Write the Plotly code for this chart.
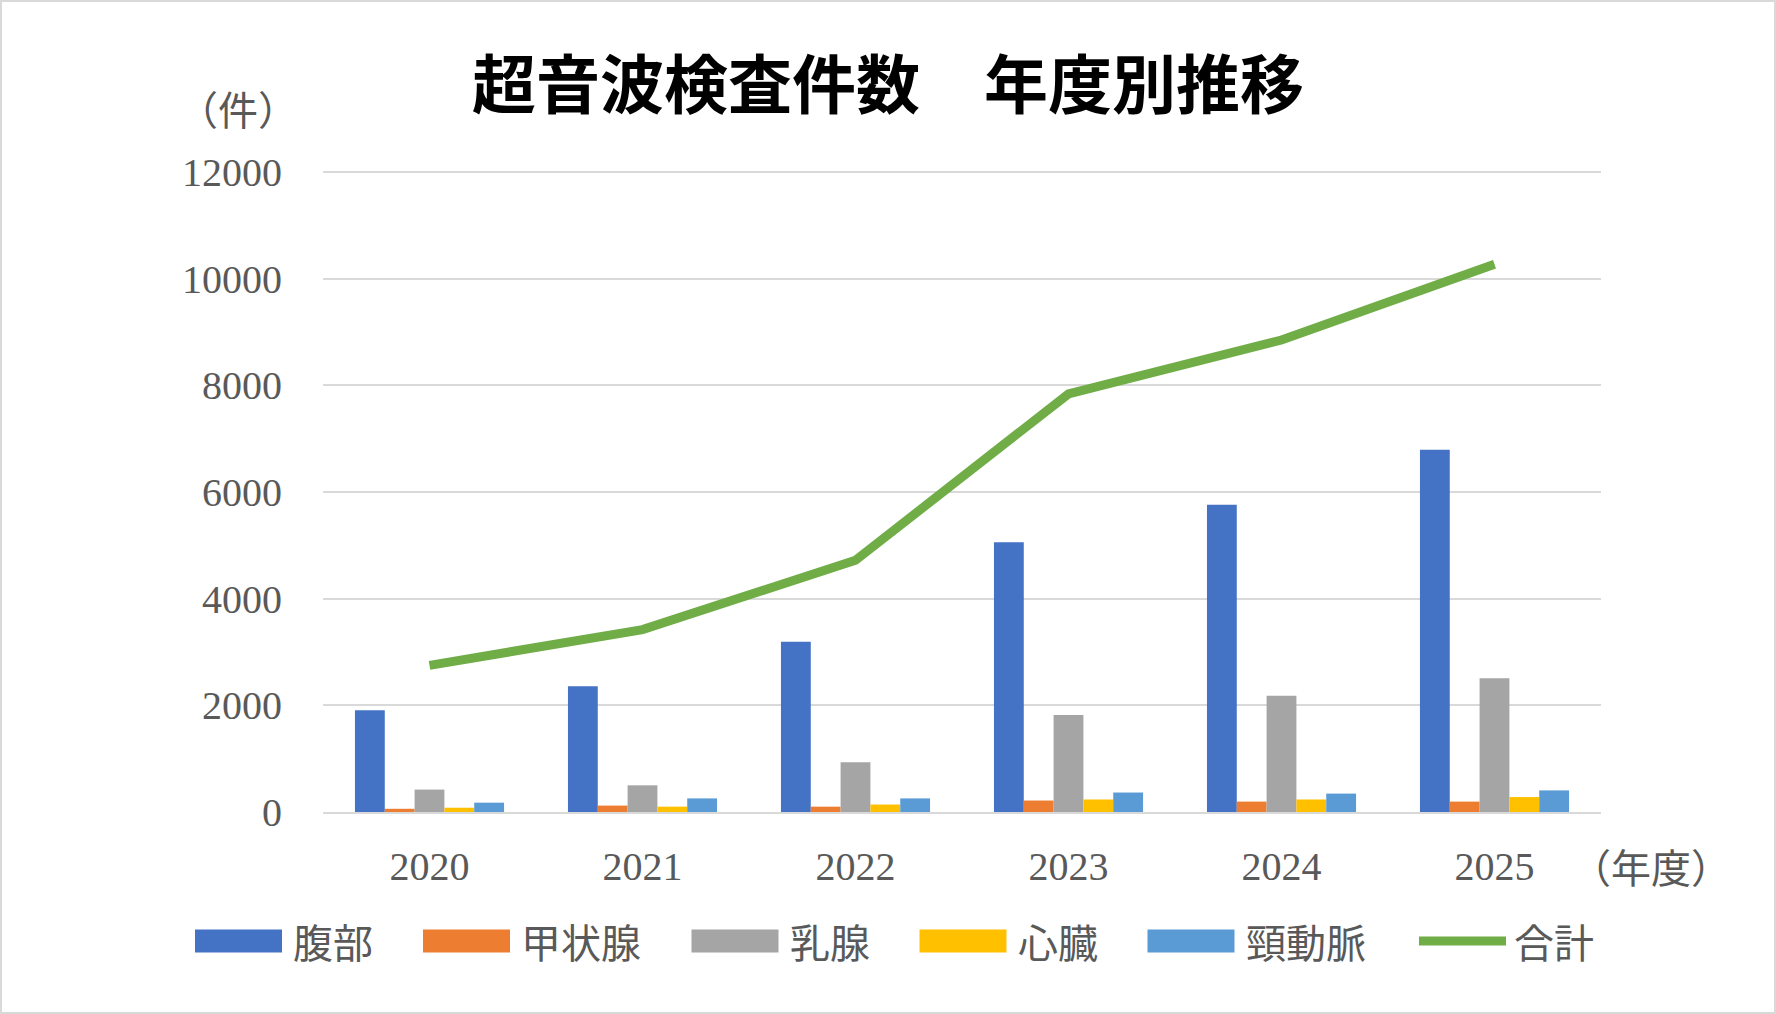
import plotly.graph_objects as go

# data
YEARS = ["2020", "2021", "2022", "2023", "2024", "2025"]
SERIES_NAMES = ["腹部", "甲状腺", "乳腺", "心臓", "頸動脈"]
ABDOMEN = [1910, 2360, 3190, 5060, 5760, 6790]
THYROID = [60, 120, 100, 215, 195, 195]
BREAST = [420, 500, 935, 1820, 2180, 2510]
HEART = [80, 100, 140, 235, 235, 280]
CAROTID = [175, 255, 255, 365, 345, 405]
TOTAL_NAME = "合計"
TOTAL = [2750, 3420, 4720, 7840, 8850, 10270]
Y_TICKS = [0, 2000, 4000, 6000, 8000, 10000, 12000]

BAR_COLORS = ["#4472C4", "#ED7D31", "#A5A5A5", "#FFC000", "#5B9BD5"]
LINE_COLOR = "#70AD47"
GRID_COLOR = "#D9D9D9"
TEXT_COLOR = "#595959"
SERIF = "Liberation Serif, Noto Sans CJK JP, serif"
CJK = "Noto Sans CJK JP, sans-serif"

W, H = 1776, 1014
ML, MR, MT, MB = 323, 175, 170, 202
PW = W - ML - MR
PH = H - MT - MB
# a little headroom above 12000 so plotly keeps the top gridline
Y_MAX = 12000 * PH / 640


def px_x(px):
    return (px - ML) / PW


def px_y(py):
    return (H - MB - py) / PH


fig = go.Figure()
for name, vals, color in zip(SERIES_NAMES, [ABDOMEN, THYROID, BREAST, HEART, CAROTID], BAR_COLORS):
    fig.add_trace(go.Bar(
        name=name,
        x=YEARS,
        y=vals,
        marker=dict(color=color, line_width=0),
        hovertemplate=f"{name}<br>%{{x}}: %{{y:d}}件<extra></extra>",
    ))

fig.add_trace(go.Scatter(
    name=TOTAL_NAME,
    x=YEARS,
    y=TOTAL,
    mode="lines",
    line=dict(color=LINE_COLOR, width=9),
    hovertemplate=f"{TOTAL_NAME}<br>%{{x}}: %{{y:d}}件<extra></extra>",
))

fig.update_layout(
    width=W,
    height=H,
    margin=dict(l=ML, r=MR, t=MT, b=MB),
    paper_bgcolor="white",
    plot_bgcolor="white",
    barmode="group",
    bargap=0.3,
    bargroupgap=0,
    showlegend=False,
    title=dict(
        text="<b>超音波検査件数　年度別推移</b>",
        font=dict(family=CJK, size=64, color="black"),
        x=888 / W, xref="container", xanchor="center",
        y=1 - 86 / H, yref="container", yanchor="middle",
    ),
    xaxis=dict(
        type="category",
        showgrid=False,
        showline=True,
        linecolor=GRID_COLOR,
        linewidth=2,
        ticks="",
        tickfont=dict(family=SERIF, size=40, color=TEXT_COLOR),
        ticklabelstandoff=18,
    ),
    yaxis=dict(
        range=[0, Y_MAX],
        tickvals=Y_TICKS,
        tickformat="d",
        showgrid=True,
        gridcolor=GRID_COLOR,
        gridwidth=2,
        zeroline=False,
        showline=False,
        ticks="",
        tickfont=dict(family=SERIF, size=40, color=TEXT_COLOR),
        ticklabelstandoff=40,
    ),
)

# axis unit labels
fig.add_annotation(text="（件）", x=px_x(238), y=px_y(108), xref="paper", yref="paper",
                   xanchor="center", yanchor="middle", showarrow=False,
                   font=dict(family=CJK, size=40, color=TEXT_COLOR))
fig.add_annotation(text="（年度）", x=px_x(1651), y=px_y(866), xref="paper", yref="paper",
                   xanchor="center", yanchor="middle", showarrow=False,
                   font=dict(family=CJK, size=40, color=TEXT_COLOR))

# legend drawn by hand so the swatches can be as wide as in the original
legend_y = 941
sw_w, sw_h = 87, 23
x = 195
for name, color in zip(SERIES_NAMES + [TOTAL_NAME], BAR_COLORS + [LINE_COLOR]):
    if name == TOTAL_NAME:
        fig.add_shape(type="line", xref="paper", yref="paper",
                      x0=px_x(x + 3), x1=px_x(x + sw_w + 3), y0=px_y(legend_y), y1=px_y(legend_y),
                      line=dict(color=color, width=9))
    else:
        fig.add_shape(type="rect", xref="paper", yref="paper",
                      x0=px_x(x), x1=px_x(x + sw_w),
                      y0=px_y(legend_y + sw_h / 2), y1=px_y(legend_y - sw_h / 2),
                      fillcolor=color, line_width=0)
    fig.add_annotation(text=name, x=px_x(x + sw_w + 9), y=px_y(legend_y), xref="paper", yref="paper",
                       xanchor="left", yanchor="middle", showarrow=False,
                       font=dict(family=CJK, size=40, color=TEXT_COLOR))
    x += 147 + 40.5 * len(name)

# chart border
fig.add_shape(type="rect", xref="paper", yref="paper",
              x0=px_x(1), x1=px_x(W - 1), y0=px_y(H - 1), y1=px_y(1),
              line=dict(color=GRID_COLOR, width=2), fillcolor="rgba(0,0,0,0)", layer="below")

# drop the default page margin so the figure sits at the window corner
fig.write_html("out.html", config={"displayModeBar": False},
               post_script="document.body.style.margin = '0';")
